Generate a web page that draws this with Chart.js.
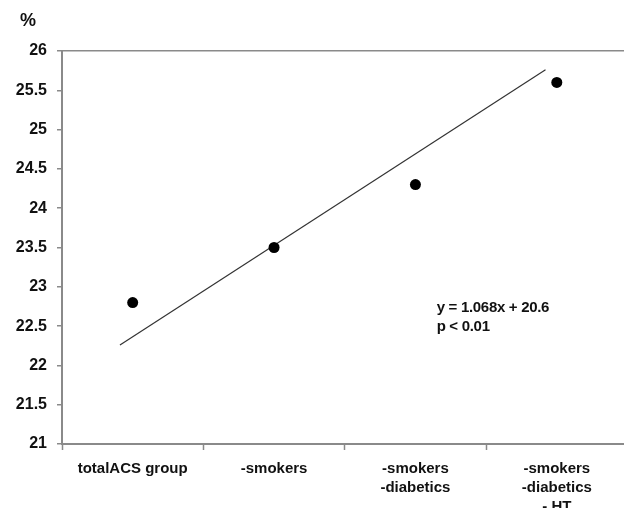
<!DOCTYPE html>
<html>
<head>
<meta charset="utf-8">
<script src="https://cdn.jsdelivr.net/npm/chart.js@4/dist/chart.umd.min.js"></script>
<style>
  html, body { margin: 0; padding: 0; background: #fff; overflow: hidden; }
  #wrap { width: 633px; height: 508px; }
</style>
</head>
<body>
<div id="wrap"><canvas id="chart" width="633" height="508"></canvas></div>
<script>
const categories = [
    'totalACS group',
    '-smokers',
    ['-smokers', '-diabetics'],
    ['-smokers', '-diabetics', '- HT']
];
const percentValues = [22.8, 23.5, 24.3, 25.6];
// trend line as drawn: start / end, x in category units (1 = first category)
const trendX = [0.91, 3.92];
const trendY = [22.26, 25.76];
const yTicks = [21, 21.5, 22, 22.5, 23, 23.5, 24, 24.5, 25, 25.5, 26];
const fitText = ['y = 1.068x + 20.6', 'p < 0.01'];

const FONT = '"Liberation Sans", Arial, sans-serif';
const axisGray = '#8a8a8a';

// "%" unit and the regression note
const notesPlugin = {
    id: 'notes',
    afterDraw(chart) {
        const ctx = chart.ctx;
        const xs = chart.scales.x2;
        const ys = chart.scales.y;
        ctx.save();
        ctx.fillStyle = '#111';
        ctx.font = 'bold 18px ' + FONT;
        ctx.textAlign = 'center';
        ctx.textBaseline = 'middle';
        ctx.fillText('%', 28, 21);
        ctx.font = 'bold 15px ' + FONT;
        ctx.textAlign = 'left';
        ctx.letterSpacing = '-0.3px';
        const left = xs.getPixelForValue(3.15);
        ctx.fillText(fitText[0], left, ys.getPixelForValue(22.73));
        ctx.fillText(fitText[1], left, ys.getPixelForValue(22.49));
        ctx.restore();
    }
};

new Chart(document.getElementById('chart'), {
    type: 'line',
    data: {
        labels: categories,
        datasets: [
            {
                label: 'ACS',
                data: percentValues,
                showLine: false,
                pointRadius: 5.5,
                pointHoverRadius: 5.5,
                pointBackgroundColor: '#000',
                pointBorderColor: '#000',
                pointBorderWidth: 0
            },
            {
                label: 'trend',
                xAxisID: 'x2',
                data: trendX.map((x, i) => ({ x: x, y: trendY[i] })),
                borderColor: '#333',
                borderWidth: 1.2,
                pointRadius: 0,
                fill: false
            }
        ]
    },
    options: {
        responsive: false,
        animation: false,
        events: [],
        layout: { padding: { top: 51, right: 5, left: 0, bottom: 0 } },
        plugins: {
            legend: { display: false },
            tooltip: { enabled: false }
        },
        scales: {
            x: {
                type: 'category',
                offset: true,
                grid: {
                    offset: true,
                    drawOnChartArea: false,
                    drawTicks: true,
                    tickLength: 6,
                    tickColor: axisGray,
                    tickWidth: 1.5
                },
                border: { color: axisGray, width: 2 },
                ticks: {
                    color: '#111',
                    padding: 9,
                    maxRotation: 0,
                    autoSkip: false,
                    font: { family: FONT, size: 15, weight: 'bold', lineHeight: 1.27 }
                },
                afterFit(scale) { scale.height = 64; }
            },
            x2: {
                type: 'linear',
                display: false,
                min: 0.5,
                max: 4.5
            },
            y: {
                min: 21,
                max: 26,
                afterBuildTicks(scale) { scale.ticks = yTicks.map(v => ({ value: v })); },
                grid: {
                    color: ctx => ctx.tick && ctx.tick.value === 26 ? axisGray : 'rgba(0,0,0,0)',
                    lineWidth: 1.5,
                    tickLength: 5,
                    tickColor: axisGray,
                    tickWidth: 1.5
                },
                border: { color: axisGray, width: 2 },
                ticks: {
                    color: '#111',
                    padding: 10,
                    font: { family: FONT, size: 16, weight: 'bold' },
                    callback: v => String(v)
                },
                afterFit(scale) { scale.width = 62; }
            }
        }
    },
    plugins: [notesPlugin]
});
</script>
</body>
</html>
